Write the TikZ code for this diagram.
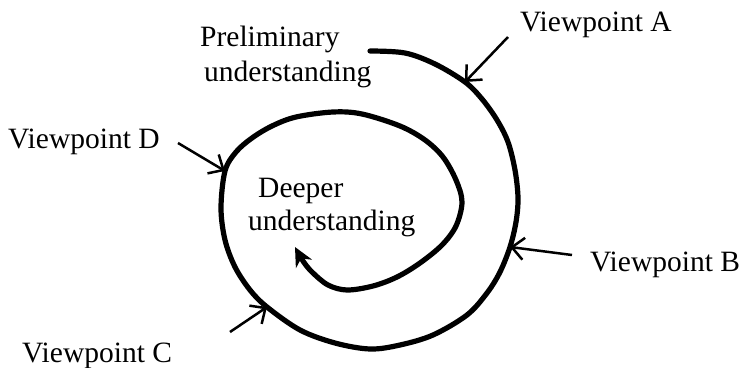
\documentclass[tikz,border=0pt]{standalone}
\usepackage{fontspec}
\setmainfont{Liberation Serif}
\usetikzlibrary{arrows.meta}
\begin{document}
\begin{tikzpicture}[x=1pt,y=-1pt,
  lbl/.style={inner sep=0pt,anchor=base west,font=\fontsize{29.5}{34}\selectfont},
  spiralline/.style={line width=5.2pt,line cap=round,line join=round,
    -{Stealth[length=19pt,width=18pt,inset=6pt]}},
  pointer/.style={line width=2.5pt,-{Straight Barb[length=12pt,width=22pt,line width=2.5pt]}}]
\useasboundingbox (0,0) rectangle (742,367);

% points on the spiral where the viewpoint arrows land
\coordinate (pA) at (465,82);
\coordinate (pB) at (510,247);
\coordinate (pC) at (267,307);
\coordinate (pD) at (225,171);

% spiral from the preliminary to the deeper understanding
\draw[spiralline] plot[smooth,tension=0.55] coordinates{
  (370,51) (405,53) (435,64) (pA) (482,99) (497,120) (508,142) (515,170)
  (518,198) (516,222) (pB) (500,272) (487,293) (467,315) (433,335)
  (400,345) (370,349) (335,343) (300,330) (pC) (250,290) (235,267)
  (225,240) (221,208) (pD) (236,152) (252,138) (272,126) (296,117)
  (333,112) (362,114) (400,126) (425,140) (443,157) (456,180) (462,202)
  (456,226) (442,245) (420,263) (397,277) (373,286) (347,290) (328,285)
  (312,272) (303,261) (295,247)};

% labels
\node[lbl] (prel) at (200,46) {Preliminary};
\node[lbl] (prel2) at (204,81) {understanding};
\node[lbl] (deep) at (258,197) {Deeper};
\node[lbl] (deep2) at (248,230) {understanding};
\node[lbl] (vA) at (520,31) {Viewpoint A};
\node[lbl] (vB) at (590,271) {Viewpoint B};
\node[lbl] (vC) at (22,362) {Viewpoint C};
\node[lbl] (vD) at (8,148) {Viewpoint D};

% tails of the viewpoint arrows
\coordinate (tA) at (508,37);
\coordinate (tB) at (572,255);
\coordinate (tC) at (230,332);
\coordinate (tD) at (178,143);

\draw[pointer] (tA) -- (pA);
\draw[pointer] (tB) -- (pB);
\draw[pointer] (tC) -- (pC);
\draw[pointer] (tD) -- (pD);
\end{tikzpicture}
\end{document}
